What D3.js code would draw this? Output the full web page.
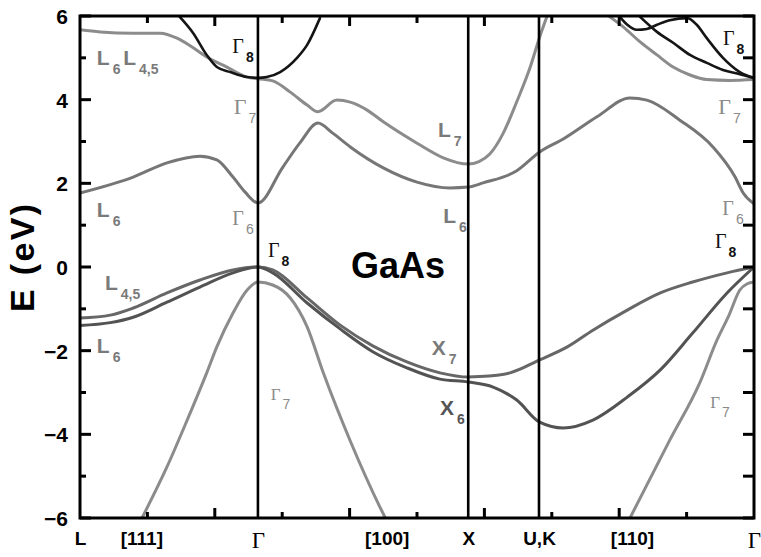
<!DOCTYPE html>
<html>
<head>
<meta charset="utf-8">
<script src="https://cdn.jsdelivr.net/npm/d3@7"></script>
<style>
  body { margin: 0; background: #fff; }
  svg { display: block; }
</style>
</head>
<body>
<svg id="chart" width="761" height="557"></svg>
<script>
// Path coordinate k along L – Γ – X – U,K – Γ, energies in eV
const symmetryK = [0, 2.64, 5.76, 6.81, 10];
const pathLabels = ["L", "[111]", "Γ", "[100]", "X", "U,K", "[110]", "Γ"];
const pathLabelK = [0, 0.91, 2.64, 4.55, 5.76, 6.81, 8.19, 10];
const energyTicks = [-6, -4, -2, 0, 2, 4, 6];
const energyMinor = [-5, -3, -1, 1, 3, 5];
const pathTicks = [1, 2, 3, 4, 5, 6, 7, 8, 9];

// Valence bands: L4,5 – Γ8 – X7 – Γ8 and L6 – Γ8 – X6 – Γ8
const valence1 = [[0,-1.22],[0.45,-1.15],[0.79,-0.98],[1.29,-0.62],[1.78,-0.31],[2.27,-0.07],[2.64,0],
  [2.86,-0.07],[3.37,-0.74],[3.86,-1.39],[4.35,-1.89],[4.85,-2.27],[5.34,-2.53],[5.76,-2.63],
  [5.93,-2.62],[6.38,-2.53],[6.82,-2.22],[7.23,-1.91],[7.61,-1.51],[8.12,-1.03],[8.61,-0.62],
  [9.09,-0.36],[9.60,-0.14],[10,0]];
const valence2 = [[0,-1.40],[0.45,-1.33],[0.79,-1.20],[1.29,-0.84],[1.78,-0.48],[2.27,-0.14],[2.64,0],
  [2.86,-0.14],[3.37,-0.86],[3.86,-1.48],[4.35,-2.03],[4.85,-2.41],[5.34,-2.68],[5.76,-2.75],
  [6.13,-2.87],[6.48,-3.18],[6.82,-3.71],[7.17,-3.85],[7.61,-3.66],[8.12,-3.11],[8.61,-2.46],
  [9.09,-1.58],[9.60,-0.62],[10,0]];
// Split-off band Γ7
const splitOffLX = [[0.92,-6.0],[1.29,-4.78],[1.59,-3.66],[1.88,-2.53],[2.03,-1.91],[2.27,-1.10],
  [2.48,-0.55],[2.64,-0.36],[2.86,-0.43],[3.12,-0.74],[3.37,-1.43],[3.61,-2.53],[4.01,-4.16],
  [4.45,-5.74],[4.53,-6.0]];
const splitOffK = [[8.16,-6.0],[8.75,-4.14],[9.20,-2.75],[9.45,-1.75],[9.63,-1.15],[9.79,-0.55],
  [9.90,-0.40],[10,-0.36]];
// Lowest conduction band Γ6
const conduction1 = [[0,1.77],[0.79,2.15],[1.29,2.49],[1.78,2.65],[2.03,2.56],[2.27,2.15],[2.45,1.79],
  [2.64,1.53],[3.01,2.39],[3.26,2.96],[3.53,3.44],[3.75,3.20],[4.01,2.87],[4.50,2.37],[5.00,2.03],
  [5.49,1.89],[5.76,1.91],[5.98,2.01],[6.48,2.30],[6.82,2.75],[7.17,3.06],[7.67,3.59],[8.16,4.04],
  [8.41,3.99],[8.90,3.51],[9.39,2.87],[9.72,2.15],[9.84,1.77],[10,1.51]];
// Second conduction band Γ7 (L6, L4,5 – Γ7 – L7 direction)
const conduction2 = [[0,5.67],[0.30,5.62],[0.79,5.59],[1.19,5.59],[1.44,5.47],[1.68,5.24],[1.88,5.02],
  [2.18,4.78],[2.48,4.54],[2.64,4.50],[2.86,4.45],[3.12,4.18],[3.37,3.87],[3.53,3.71],[3.81,3.99],
  [4.01,3.94],[4.26,3.75],[4.50,3.47],[5.00,2.96],[5.39,2.61],[5.76,2.46],[5.92,2.52],[6.08,2.70],
  [6.28,3.20],[6.48,3.95],[6.68,4.78],[6.82,5.50],[6.93,6.0]];
const conduction2K = [[7.86,5.98],[8.06,5.74],[8.31,5.38],[8.56,5.07],[8.80,4.78],[9.05,4.59],
  [9.30,4.48],[9.64,4.46],[10,4.48]];
// Γ8 conduction bands
const gamma8LX = [[1.48,5.98],[1.68,5.59],[1.88,5.07],[2.03,4.78],[2.23,4.66],[2.48,4.54],[2.64,4.52],
  [2.77,4.54],[2.97,4.66],[3.22,5.00],[3.37,5.31],[3.56,5.95]];
const gamma8K1 = [[8.01,5.98],[8.12,5.79],[8.26,5.67],[8.41,5.69],[8.56,5.79],[8.75,5.90],[9.01,5.95],
  [9.15,5.79],[9.30,5.47],[9.54,5.00],[9.79,4.66],[10,4.52]];
const gamma8K2 = [[8.31,5.98],[8.56,5.62],[8.80,5.36],[9.05,5.07],[9.30,4.88],[9.54,4.71],[9.79,4.61],[10,4.52]];

// Level labels: symbol, subscript, anchor (k, E)
const levelNames = ["Γ","L","L","Γ","L","Γ","Γ","L","Γ","Γ","L","Γ","Γ","L","L","X","Γ","X","Γ"];
const levelSubs  = ["8","6","4,5","7","7","8","7","6","6","8","6","6","8","4,5","6","7","7","6","7"];
const levelK     = [2.26,0.25,0.64,2.28,5.31,9.54,9.47,0.25,2.26,2.79,5.39,9.53,9.42,0.37,0.25,5.22,2.83,5.34,9.35];
const levelE     = [5.12,4.83,4.83,3.66,3.11,5.31,3.66,1.20,1.00,0.24,1.05,1.24,0.45,-0.55,-2.06,-2.10,-3.18,-3.54,-3.37];

const materialName = "GaAs";
const materialAt = [4.72, -0.26];
const axisTitle = "E (eV)";

// ---- drawing ----
const svg = d3.select("#chart");
const plotLeft = 80, plotRight = 754, plotTop = 16, plotBottom = 518;
const x = d3.scaleLinear().domain([0, 10]).range([plotLeft, plotRight]);
const y = d3.scaleLinear().domain([-6, 6]).range([plotBottom, plotTop]);
const sans = "'Liberation Sans', Arial, Helvetica, sans-serif";
const serif = "'Liberation Serif', 'Times New Roman', serif";

svg.append("defs").append("clipPath").attr("id", "plot")
  .append("rect").attr("x", plotLeft).attr("y", plotTop)
  .attr("width", plotRight - plotLeft).attr("height", plotBottom - plotTop);

const line = d3.line().x(d => x(d[0])).y(d => y(d[1])).curve(d3.curveMonotoneX);

const bands = [
  { pts: conduction2, color: "#8c8c8c", w: 3 },
  { pts: conduction2K, color: "#8c8c8c", w: 3 },
  { pts: splitOffLX, color: "#8c8c8c", w: 3 },
  { pts: splitOffK, color: "#8c8c8c", w: 3 },
  { pts: conduction1, color: "#767676", w: 3 },
  { pts: valence1, color: "#676767", w: 3 },
  { pts: valence2, color: "#535353", w: 3 },
  { pts: gamma8LX, color: "#151515", w: 2.6 },
  { pts: gamma8K1, color: "#151515", w: 2.6 },
  { pts: gamma8K2, color: "#151515", w: 2.6 }
];

svg.append("g").attr("clip-path", "url(#plot)")
  .selectAll("path").data(bands).join("path")
  .attr("d", d => line(d.pts))
  .attr("fill", "none")
  .attr("stroke", d => d.color)
  .attr("stroke-width", d => d.w)
  .attr("stroke-linejoin", "round")
  .attr("stroke-linecap", "round");

// vertical lines at the inner symmetry points
svg.append("g").selectAll("line").data(symmetryK.slice(1, 4)).join("line")
  .attr("x1", d => x(d)).attr("x2", d => x(d))
  .attr("y1", plotTop).attr("y2", plotBottom)
  .attr("stroke", "#000").attr("stroke-width", 2.6);

// inward tick marks on all four sides
const tickLayer = svg.append("g").attr("stroke", "#000").attr("stroke-width", 3);
const energyAll = energyTicks.map(v => ({ v, len: 11 })).concat(energyMinor.map(v => ({ v, len: 6 })));
tickLayer.selectAll("line.left").data(energyAll).join("line").attr("class", "left")
  .attr("x1", plotLeft).attr("x2", d => plotLeft + d.len)
  .attr("y1", d => y(d.v)).attr("y2", d => y(d.v));
tickLayer.selectAll("line.right").data(energyAll).join("line").attr("class", "right")
  .attr("x1", plotRight).attr("x2", plotRight - 11)
  .attr("y1", d => y(d.v)).attr("y2", d => y(d.v));
const pathAll = pathTicks.map(v => ({ v, len: v % 2 === 0 ? 10 : 7 }));
tickLayer.selectAll("line.top").data(pathAll).join("line").attr("class", "top")
  .attr("x1", d => x(d.v)).attr("x2", d => x(d.v))
  .attr("y1", plotTop).attr("y2", d => plotTop + d.len);
tickLayer.selectAll("line.bottom").data(pathAll).join("line").attr("class", "bottom")
  .attr("x1", d => x(d.v)).attr("x2", d => x(d.v))
  .attr("y1", plotBottom).attr("y2", d => plotBottom - (d.len === 10 ? 10 : 6));

// energy labels
svg.append("g").attr("transform", `translate(${plotLeft},0)`)
  .call(d3.axisLeft(y).tickValues(energyTicks).tickSize(0).tickPadding(12).tickFormat(d3.format("d")))
  .call(g => g.select(".domain").remove())
  .call(g => g.selectAll("text").attr("font-family", sans).attr("font-weight", "bold")
    .attr("font-size", 21).attr("fill", "#000").attr("dy", "0.36em"));

// path labels under the axis
svg.append("g").attr("transform", `translate(0,${plotBottom})`)
  .call(d3.axisBottom(x).tickValues(pathLabelK).tickSize(0).tickPadding(14)
    .tickFormat((d, i) => pathLabels[i]))
  .call(g => g.select(".domain").remove())
  .call(g => g.selectAll("text")
    .attr("fill", "#000")
    .attr("font-family", (d, i) => pathLabels[i] === "Γ" ? serif : sans)
    .attr("font-weight", (d, i) => pathLabels[i] === "Γ" ? "normal" : "bold")
    .attr("font-size", (d, i) => pathLabels[i] === "Γ" ? 23 : 19)
    .attr("dy", "0.71em"));

// frame
svg.append("rect").attr("x", plotLeft).attr("y", plotTop)
  .attr("width", plotRight - plotLeft).attr("height", plotBottom - plotTop)
  .attr("fill", "none").attr("stroke", "#000").attr("stroke-width", 3);

// axis title
svg.append("text")
  .attr("transform", "translate(34,312) rotate(-90)")
  .attr("text-anchor", "start")
  .attr("font-family", sans).attr("font-weight", "bold").attr("font-size", 34)
  .attr("textLength", 108).attr("lengthAdjust", "spacing")
  .text(axisTitle);

// material name
svg.append("text")
  .attr("x", x(materialAt[0])).attr("y", y(materialAt[1]))
  .attr("text-anchor", "middle")
  .attr("font-family", sans).attr("font-weight", "bold").attr("font-size", 36)
  .text(materialName);

// level labels with subscripts
function levelColor(name, sub) {
  if (name === "Γ" && sub === "8") return "#111";
  if (name === "X" && sub === "6") return "#555";
  if (name === "Γ") return "#8a8a8a";
  return "#7a7a7a";
}
function levelSize(name, sub, e) {
  if (name !== "Γ") return 21;
  if (sub === "7") return e < 0 ? 17 : 22;
  return 20;
}
levelNames.forEach((name, i) => {
  const sub = levelSubs[i];
  const t = svg.append("text")
    .attr("x", x(levelK[i])).attr("y", y(levelE[i]))
    .attr("fill", levelColor(name, sub));
  t.append("tspan")
    .attr("font-family", name === "Γ" ? serif : sans)
    .attr("font-weight", name === "Γ" ? "normal" : "bold")
    .attr("font-size", levelSize(name, sub, levelE[i]))
    .text(name);
  t.append("tspan")
    .attr("dx", name === "Γ" ? 2 : 3)
    .attr("dy", 9)
    .attr("font-family", sans)
    .attr("font-weight", (name === "Γ" && sub !== "8") ? "normal" : "bold")
    .attr("font-size", 14)
    .text(sub);
});
</script>
</body>
</html>
